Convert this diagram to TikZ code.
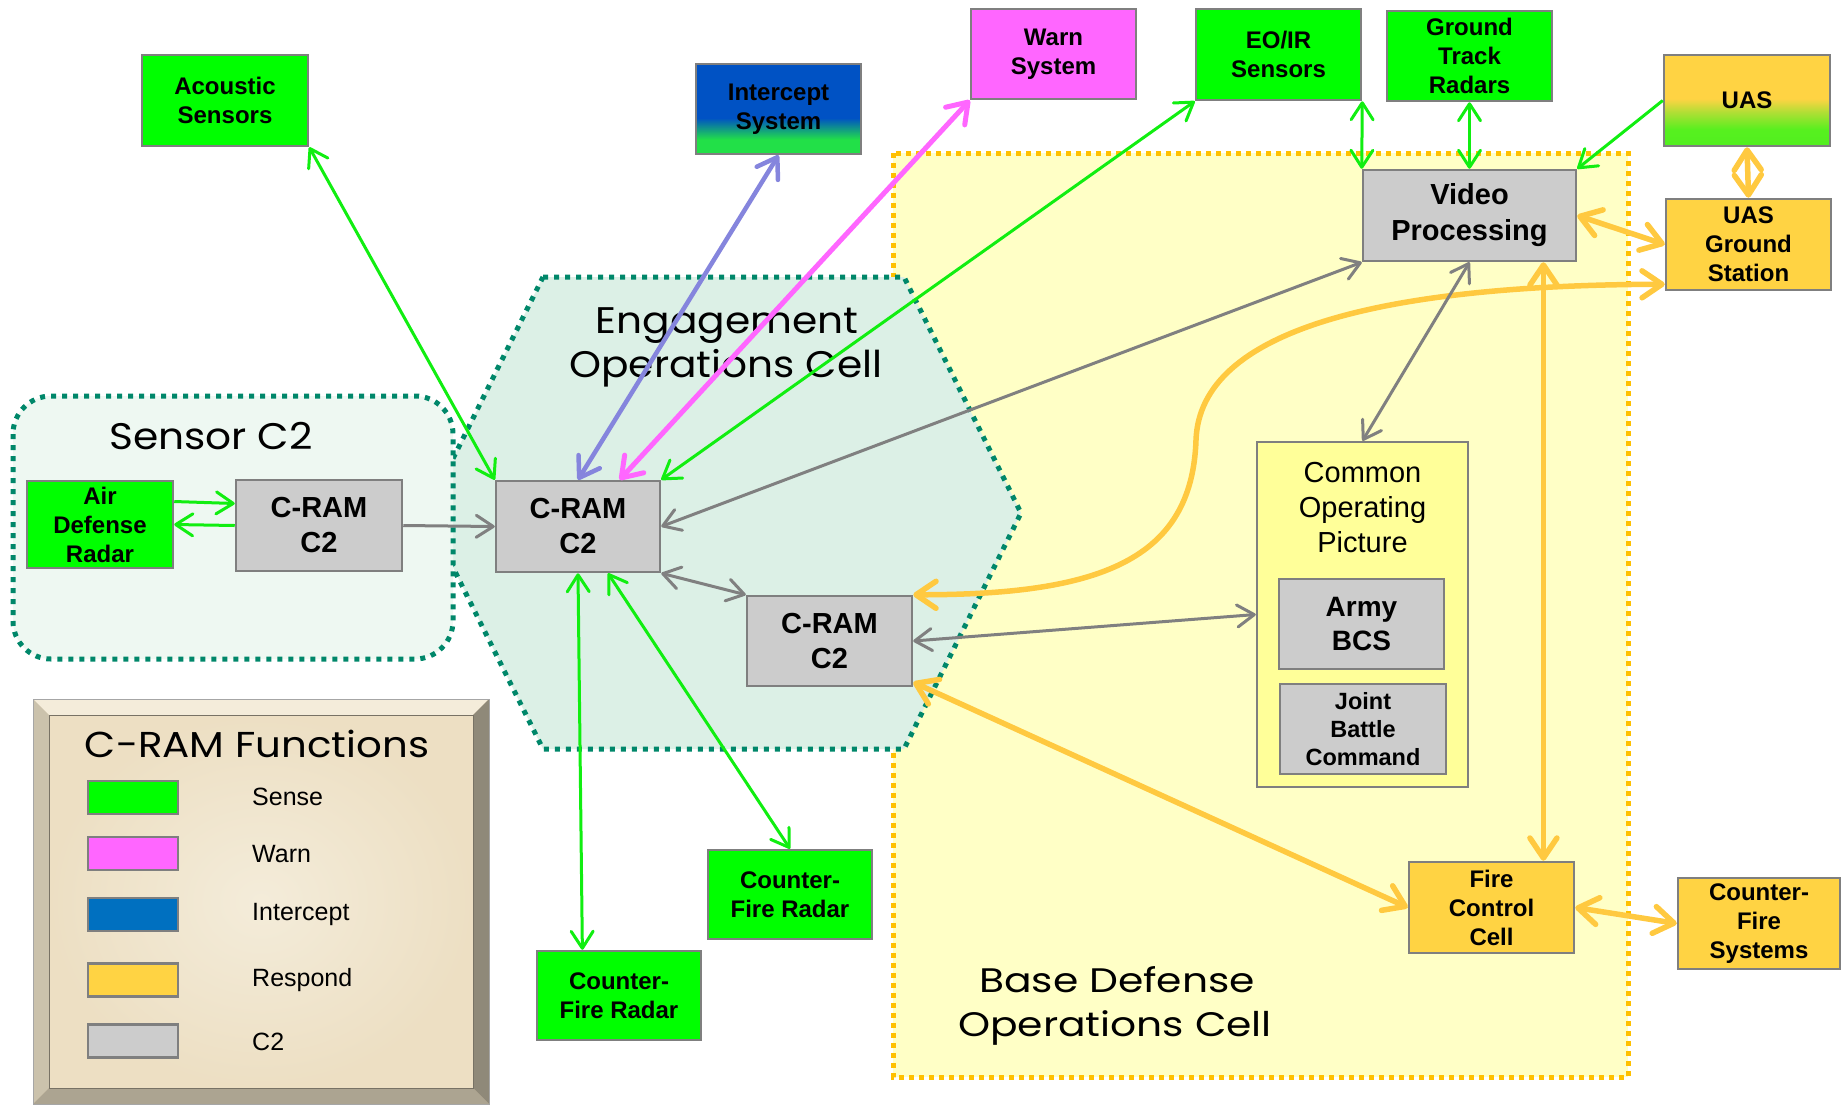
\documentclass[tikz,border=0pt]{standalone}
\usepackage{fontspec}
\setmainfont{Liberation Sans}
\newfontfamily\geofont{Poppins}
\usetikzlibrary{arrows.meta,calc}

\definecolor{sensegreen}{HTML}{00FF00}
\definecolor{sensearrow}{HTML}{11EE11}
\definecolor{warnpink}{HTML}{FF66FF}
\definecolor{interceptblue}{HTML}{0070C0}
\definecolor{interceptdeep}{HTML}{0052C4}
\definecolor{interceptgreen}{HTML}{22E048}
\definecolor{interceptarrow}{HTML}{8585DD}
\definecolor{respondyellow}{HTML}{FFD343}
\definecolor{respondarrow}{HTML}{FFC940}
\definecolor{uasgreen}{HTML}{44EE22}
\definecolor{ctwogray}{HTML}{CCCCCC}
\definecolor{ctwoarrow}{HTML}{808080}
\definecolor{boxedge}{HTML}{7F7F7F}
\definecolor{baseyellow}{HTML}{FFFFC6}
\definecolor{orangedot}{HTML}{FFC000}
\definecolor{hexfill}{HTML}{DCF0E6}
\definecolor{tealdot}{HTML}{00876A}
\definecolor{sensorfill}{HTML}{EEF8F2}
\definecolor{copfill}{HTML}{FFFF99}
\definecolor{parchment}{HTML}{EFE4CA}

% two-tone fills of the intercept and UAS boxes (bottom = 25bp, top = 75bp)
\pgfdeclareverticalshading{interceptshade}{100bp}{%
  color(0bp)=(interceptgreen); color(33bp)=(interceptgreen);
  color(45bp)=(interceptdeep); color(100bp)=(interceptdeep)}
\pgfdeclareverticalshading{uasshade}{100bp}{%
  color(0bp)=(uasgreen); color(34bp)=(uasgreen!90!yellow);
  color(44bp)=(respondyellow!60!uasgreen); color(51bp)=(respondyellow);
  color(100bp)=(respondyellow)}

% wider geometric lettering for the cell titles
\newcommand{\widegeo}[1]{\scalebox{1.1}[1]{#1}}

\tikzset{
  box/.style={draw=boxedge, line width=2.5pt, inner sep=0pt, align=center,
    minimum width=165pt, minimum height=90pt,
    font=\bfseries\fontsize{24}{29}\selectfont},
  crambox/.style={box, fill=ctwogray, minimum width=165pt, minimum height=91pt,
    font=\bfseries\fontsize{29}{35}\selectfont},
  swatch/.style={draw=boxedge, line width=2.5pt, minimum width=90pt,
    minimum height=33pt, inner sep=0pt},
  legendlabel/.style={anchor=base west, inner sep=0pt,
    font=\fontsize{25}{30}\selectfont},
  regiontitle/.style={anchor=base, inner sep=0pt,
    font=\geofont\fontsize{37}{44}\selectfont},
  tealdots/.style={draw=tealdot, line width=5pt, dash pattern=on 5pt off 6pt},
  orangedots/.style={draw=orangedot, line width=5pt, dash pattern=on 5pt off 5pt},
  sensearr/.style={draw=sensearrow, line width=3pt,
    >={Straight Barb[length=17pt,width=22pt,round]}},
  ctwoarr/.style={draw=ctwoarrow, line width=3pt,
    >={Straight Barb[length=17pt,width=22pt,round]}},
  interceptarr/.style={draw=interceptarrow, line width=4.5pt,
    >={Straight Barb[length=19pt,width=25pt,round]}},
  warnarr/.style={draw=warnpink, line width=5pt,
    >={Straight Barb[length=19pt,width=26pt,round]}},
  respondarr/.style={draw=respondarrow, line width=5.5pt,
    >={Straight Barb[length=20pt,width=27pt,round]}},
}

\begin{document}
\begin{tikzpicture}[x=1pt,y=-1pt]
\useasboundingbox (0,0) rectangle (1841,1104);

% ---------- cell regions ----------
\fill[baseyellow] (893,153) rectangle (1628,1077);
\draw[orangedots] (893,153) rectangle (1628,1077);

\path[fill=hexfill] (543,277) -- (904,277) -- (1021,513) -- (904,749)
  -- (543,749) -- (426,513) -- cycle;
\draw[tealdots] (543,277) -- (904,277) -- (1021,513) -- (904,749)
  -- (543,749) -- (426,513) -- cycle;

\draw[tealdots, fill=sensorfill, rounded corners=38pt] (13,396) rectangle (453,659);

\node[regiontitle] (sensortitle) at (211,449) {\widegeo{Sensor C2}};
\node[regiontitle] (engtitleA) at (727,333) {\widegeo{Engagement}};
\node[regiontitle] (engtitleB) at (726,377) {\widegeo{Operations Cell}};
\node[regiontitle, font=\geofont\fontsize{34}{40}\selectfont] (basetitleA)
  at (1117,992) {\scalebox{1.2}[1]{Base Defense}};
\node[regiontitle, font=\geofont\fontsize{34}{40}\selectfont] (basetitleB)
  at (1115,1036) {\scalebox{1.2}[1]{Operations Cell}};

% ---------- legend ----------
\fill[parchment!80!brown] (33,699) rectangle (489,1104);
\fill[parchment!70!white] (33,699) -- (489,699) -- (473,715) -- (49,715) -- cycle;
\fill[parchment!85!black] (33,699) -- (49,715) -- (49,1088) -- (33,1104) -- cycle;
\fill[parchment!60!black] (489,699) -- (473,715) -- (473,1088) -- (489,1104) -- cycle;
\fill[parchment!72!black] (33,1104) -- (49,1088) -- (473,1088) -- (489,1104) -- cycle;
\shade[inner color=parchment!70!white, outer color=parchment!95!brown]
  (49,715) rectangle (473,1088);
\draw[parchment!50!black, line width=1pt] (49,715) rectangle (473,1088);
\draw[gray!70, line width=1pt] (33,699) rectangle (489,1104);

\node[regiontitle, font=\geofont\fontsize{36}{44}\selectfont] (legendtitle)
  at (257,757) {\scalebox{1.12}[1]{C-RAM Functions}};
\node[swatch, fill=sensegreen] (swsense) at (133,797.5) {};
\node[swatch, fill=warnpink] (swwarn) at (133,853.5) {};
\node[swatch, fill=interceptblue] (swintercept) at (133,914.5) {};
\node[swatch, fill=respondyellow] (swrespond) at (133,980) {};
\node[swatch, fill=ctwogray] (swctwo) at (133,1041) {};
\node[legendlabel] (lbsense) at (252,805) {Sense};
\node[legendlabel] (lbwarn) at (252,862) {Warn};
\node[legendlabel] (lbintercept) at (252,920) {Intercept};
\node[legendlabel] (lbrespond) at (252,986) {Respond};
\node[legendlabel] (lbctwo) at (252,1050) {C2};

% ---------- system boxes ----------
\node[box, fill=sensegreen, minimum width=166pt, minimum height=91pt] (acoustic)
  at (225,100.5) {Acoustic\\Sensors};
\node[box, shade, shading=interceptshade] (intercept)
  at (778.5,109) {Intercept\\System};
\node[box, fill=warnpink] (warn) at (1053.5,54) {Warn\\System};
\node[box, fill=sensegreen, minimum height=91pt] (eoir)
  at (1278.5,54.5) {EO/IR\\Sensors};
\node[box, fill=sensegreen] (gtr) at (1469.5,56) {Ground\\Track\\Radars};
\node[box, shade, shading=uasshade, minimum width=166pt, minimum height=91pt] (uas)
  at (1747,100.5) {UAS};
\node[box, fill=respondyellow, minimum height=91pt] (uasgs)
  at (1748.5,244.5) {UAS\\Ground\\Station};
\node[box, fill=ctwogray, minimum width=213pt, minimum height=91pt,
  font=\bfseries\fontsize{29}{36}\selectfont] (vp)
  at (1469.5,215.5) {Video\\Processing};

\node[box, fill=copfill, minimum width=211pt, minimum height=345pt] (cop)
  at (1362.5,614.5) {};
\node[anchor=north, inner sep=0pt, align=center,
  font=\fontsize{29}{35}\selectfont] (coptext) at (1362.5,462)
  {Common\\Operating\\Picture};
\node[box, fill=ctwogray, font=\bfseries\fontsize{28}{34}\selectfont] (bcs)
  at (1361.5,624) {Army\\BCS};
\node[box, fill=ctwogray, minimum width=166pt,
  font=\bfseries\fontsize{23.5}{28}\selectfont] (jbc)
  at (1363,729) {Joint\\Battle\\Command};

\node[box, fill=respondyellow, minimum height=91pt] (fcc)
  at (1491.5,907.5) {Fire\\Control\\Cell};
\node[box, fill=respondyellow, minimum width=162pt, minimum height=91pt] (cfs)
  at (1759,923.5) {Counter-\\Fire\\Systems};

\node[box, fill=sensegreen, minimum width=164pt, minimum height=89pt] (cfrA)
  at (790,894.5) {Counter-\\Fire Radar};
\node[box, fill=sensegreen, minimum width=164pt, minimum height=89pt] (cfrB)
  at (619,995.5) {Counter-\\Fire Radar};

\node[crambox, minimum width=164pt] (cram) at (578,526.5) {C-RAM\\C2};
\node[crambox, minimum height=90pt] (cramB) at (829.5,641) {C-RAM\\C2};
\node[crambox, minimum width=166pt] (sensorcram) at (319,525.5) {C-RAM\\C2};
\node[box, fill=sensegreen, minimum width=146pt, minimum height=87pt] (adr)
  at (100,524.5) {Air\\Defense\\Radar};

% ---------- connectors ----------
\draw[sensearr,<->] (acoustic.south east) -- (cram.north west);
\draw[interceptarr,<->] (intercept.south) -- (cram.north);
\draw[warnarr,<->] (warn.south west) -- ($(cram.north west)!0.75!(cram.north east)$);
\draw[sensearr,<->] (eoir.south west) -- (cram.north east);
\draw[ctwoarr,<->] (vp.south west) -- (cram.east);
\draw[ctwoarr,<->] (cram.south east) -- (cramB.north west);
\draw[ctwoarr,->] (sensorcram.east) -- (cram.west);
\draw[sensearr,->] ([yshift=23pt]adr.east) -- ([yshift=22pt]sensorcram.west);
\draw[sensearr,->] (sensorcram.west) -- (adr.east);

\coordinate (cfrBtop) at ($(cfrB.north west)!0.28!(cfrB.north east)$);
\draw[sensearr,<->] (cfrBtop) -- (cram.south);
\draw[sensearr,<->] (cfrA.north) -- ($(cram.south west)!0.68!(cram.south east)$);

\draw[sensearr,<->] (eoir.south east) -- (vp.north west);
\draw[sensearr,<->] (gtr.south) -- (vp.north);
\draw[sensearr,->] (uas.west) -- (vp.north east);

\draw[respondarr,<->] (uas.south) -- (uasgs.north);
\draw[respondarr,<->] (vp.east) -- (uasgs.west);
\draw[respondarr,<->] ([yshift=7pt]uasgs.south west)
  .. controls (1380,285) and (1200,330) .. (1196,440)
  .. controls (1192,560) and (1100,595) .. (cramB.north east);

\draw[ctwoarr,<->] (vp.south) -- (cop.north);
\draw[ctwoarr,<->] (cramB.east) -- (cop.west);

\coordinate (fcctop) at ($(fcc.north west)!0.81!(fcc.north east)$);
\draw[respondarr,<->] (fcctop |- vp.south) -- (fcctop);
\draw[respondarr,<->] ([yshift=5pt]cramB.south east) -- (fcc.west);
\draw[respondarr,<->] (fcc.east) -- (cfs.west);
\end{tikzpicture}
\end{document}
